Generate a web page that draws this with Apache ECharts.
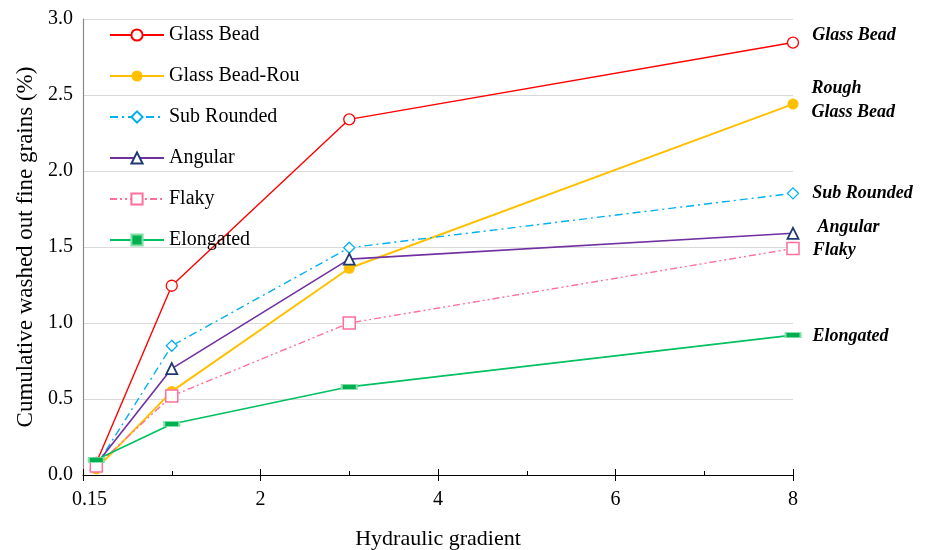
<!DOCTYPE html>
<html>
<head>
<meta charset="utf-8">
<script src="https://cdn.jsdelivr.net/npm/echarts@6/dist/echarts.min.js"></script>
<style>html,body{margin:0;padding:0;background:#fff}#c{width:932px;height:550px}</style>
</head>
<body>
<div id="c"></div>
<script>
var xValues = [0.15, 1, 3, 8];
var glassBead = [0.08, 1.245, 2.34, 2.845];
var glassBeadRou = [0.04, 0.55, 1.36, 2.44];
var subRounded = [0.06, 0.85, 1.495, 1.853];
var angular = [0.07, 0.70, 1.42, 1.59];
var flaky = [0.06, 0.52, 1.0, 1.49];
var elongated = [0.10, 0.336, 0.58, 0.92];
var seriesNames = ['Glass Bead', 'Glass Bead-Rou', 'Sub Rounded', 'Angular', 'Flaky', 'Elongated'];
var endLabels = ['Glass Bead', 'Rough\nGlass Bead', 'Sub Rounded', 'Angular', 'Flaky', 'Elongated'];
var xTickLabelFirst = '0.15';
var xAxisTitle = 'Hydraulic gradient';
var yAxisTitle = 'Cumulative washed out fine grains (%)';

var FONT = 'Liberation Serif';
var seriesValues = [glassBead, glassBeadRou, subRounded, angular, flaky, elongated];
var styles = [
  {color:'#ff0000', width:1.4, type:'solid', symbol:'circle', size:11, fill:'#ffffff', border:'#ff0000', bw:1.3, off:[0,-7]},
  {color:'#ffc000', width:2, type:'solid', symbol:'circle', size:11, fill:'#ffc000', border:'#ffc000', bw:0, off:[0,-4]},
  {color:'#00b0f0', width:1.4, type:[8,4,2,4], symbol:'diamond', size:11, fill:'#ffffff', border:'#00b0f0', bw:1.3, off:[0,0]},
  {color:'#7030a0', width:1.6, type:'solid', symbol:'triangle', size:11, fill:'#ffffff', border:'#1f3a70', bw:1.8, off:[5,-6]},
  {color:'#ff6f9a', width:1.4, type:[7,3,2,3,2,3], symbol:'rect', size:12, fill:'#ffffff', border:'#ff6f9a', bw:1.5, off:[0,2]},
  {color:'#00c060', width:1.6, type:'solid', symbol:'rect', size:[15,5], fill:'#00b050', border:'#80e0a8', bw:1.2, off:[-2,1]}
];

var series = seriesNames.map(function (name, i) {
  var s = styles[i];
  var vals = seriesValues[i];
  var data = vals.map(function (v, j) {
    var item = {value: [xValues[j], v]};
    if (j === vals.length - 1) {
      item.label = {
        show: true, position: 'right', distance: 13, offset: s.off,
        formatter: endLabels[i], fontFamily: FONT, fontStyle: 'italic', fontWeight: 'bold',
        fontSize: 18, lineHeight: 24, color: '#000'
      };
    }
    return item;
  });
  return {
    name: name, type: 'line', xAxisIndex: 0, yAxisIndex: 0,
    data: data, symbol: s.symbol, symbolSize: s.size, showAllSymbol: true,
    lineStyle: {color: s.color, width: s.width, type: s.type},
    itemStyle: {color: s.fill, borderColor: s.border, borderWidth: s.bw},
    emphasis: {disabled: true},
    z: 2 + i
  };
});

var chart = echarts.init(document.getElementById('c'), null, {renderer: 'canvas'});
chart.setOption({
  animation: false,
  backgroundColor: '#ffffff',
  textStyle: {fontFamily: FONT},
  grid: {left: 83, right: 139, top: 19, bottom: 75, containLabel: false, outerBoundsMode: 'none'},
  legend: {
    orient: 'vertical', left: 104, top: 20, itemWidth: 54, itemHeight: 14, itemGap: 21,
    textStyle: {fontFamily: FONT, fontSize: 20, color: '#000'},
    data: seriesNames
  },
  xAxis: [{
    type: 'value', min: 0, max: 8, interval: 2, position: 'bottom',
    name: xAxisTitle, nameLocation: 'middle', nameGap: 53,
    nameTextStyle: {fontFamily: FONT, fontSize: 22, color: '#000'},
    axisLine: {show: true, onZero: false, lineStyle: {color: '#000', width: 1.2}},
    axisTick: {show: true, inside: false, length: 6, lineStyle: {color: '#000'}},
    axisLabel: {
      fontFamily: FONT, fontSize: 20, color: '#000', margin: 15,
      formatter: function (v) { return v === 0 ? '{a|' + xTickLabelFirst + '}' : String(v); },
      rich: {a: {fontFamily: FONT, fontSize: 20, color: '#000', padding: [0, 0, 0, 13]}}
    },
    splitLine: {show: false}
  }, {
    type: 'value', min: 0, max: 8, interval: 2, position: 'bottom',
    axisLine: {show: false},
    axisTick: {show: true, inside: true, length: 6, lineStyle: {color: '#000'}},
    minorTick: {show: true, splitNumber: 2, length: 4, lineStyle: {color: '#000'}},
    axisLabel: {show: false},
    splitLine: {show: false}
  }],
  yAxis: {
    type: 'value', min: 0, max: 3, interval: 0.5,
    name: yAxisTitle, nameLocation: 'middle', nameGap: 46,
    nameTextStyle: {fontFamily: FONT, fontSize: 23, color: '#000'},
    axisLine: {show: true, lineStyle: {color: '#8a8a8a', width: 1.2}},
    axisTick: {show: false},
    axisLabel: {fontFamily: FONT, fontSize: 20, color: '#000', margin: 10,
      formatter: function (v) { return v.toFixed(1); }},
    splitLine: {show: true, lineStyle: {color: '#d9d9d9', width: 1.2}}
  },
  series: series
});
</script>
</body>
</html>
